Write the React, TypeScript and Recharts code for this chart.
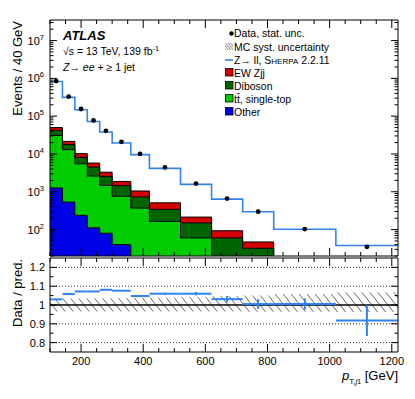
import React from 'react';
import { ComposedChart, Area, Line, Scatter, XAxis, YAxis, ErrorBar, ReferenceLine } from 'recharts';

// bins in pT (GeV), 13 bins
const binEdges = [100, 140, 180, 220, 260, 300, 360, 420, 520, 620, 720, 820, 1020, 1220];

// events / 40 GeV
const dataEvents = [850000, 330000, 155000, 77000, 41000, 21000, 10000, 4400, 1650, 660, 297, 103, 35];
const sherpaPred = [830000, 314000, 148000, 72000, 38000, 19500, 9600, 4150, 1570, 640, 295, 102, 38];
const ewZjj = [8000, 3900, 2100, 1250, 750, 430, 320, 168, 64, 33, 15, 4, 2];
const diboson = [11000, 4600, 2600, 1900, 1070, 690, 360, 177, 90, 42, 22, 5, 3];
const ttbarSingleTop = [29700, 12500, 5260, 2490, 1400, 720, 362, 160, 57, 16, 9, 4, 1];
const other = [1260, 533, 238, 111, 80, 40, 8, 5, 3, 2, 1, 1, 1];

// data / prediction
const ratio = [1.03, 1.058, 1.072, 1.072, 1.081, 1.076, 1.048, 1.06, 1.06, 1.031, 1.005, 1.005, 0.917];
const ratioStat = [0.002, 0.002, 0.002, 0.003, 0.004, 0.004, 0.005, 0.006, 0.009, 0.017, 0.026, 0.03, 0.082];
const systUp = [1.033, 1.033, 1.033, 1.034, 1.035, 1.036, 1.038, 1.04, 1.043, 1.046, 1.05, 1.058, 1.068];
const systDown = [0.966, 0.966, 0.966, 0.966, 0.966, 0.966, 0.965, 0.965, 0.965, 0.965, 0.964, 0.964, 0.963];

const xLabels = [200, 400, 600, 800, 1000, 1200];
const ratioLabels = [0.8, 0.9, 1, 1.1, 1.2];
const decades = [100, 1000, 10000, 100000, 1000000, 10000000];

const FONT = '"Liberation Sans", Arial, Helvetica, sans-serif';
const BLUE = '#2f84f4';

const xTicks = Array.from({ length: 23 }, (_, i) => 100 + i * 50);
const logTicks: number[] = [];
[10, 100, 1000, 10000, 100000, 1000000, 10000000].forEach((d) => {
  for (let k = 1; k < 10; k++) {
    const v = d * k;
    if (v >= 20 && v <= 3.5e7) logTicks.push(v);
  }
});
const ratioTicks = [0.8, 0.85, 0.9, 0.95, 1, 1.05, 1.1, 1.15, 1.2];

// table for the step areas / line (one row per bin edge, last bin repeated)
const stepRows = binEdges.map((edge, i) => {
  const b = Math.min(i, other.length - 1);
  const o = other[b];
  const t = o + ttbarSingleTop[b];
  const d = t + diboson[b];
  const e = d + ewZjj[b];
  return { x: edge, other: o, top: t, dib: d, ew: e, mc: sherpaPred[b], band: [systDown[b], systUp[b]] };
});

const pointRows = dataEvents.map((v, i) => ({ x: (binEdges[i] + binEdges[i + 1]) / 2, y: v }));
const ratioRows = ratio.map((r, i) => ({
  x: (binEdges[i] + binEdges[i + 1]) / 2,
  y: r,
  ex: (binEdges[i + 1] - binEdges[i]) / 2,
  ey: ratioStat[i],
}));

const isMajorX = (v: number) => xLabels.includes(v);

const XTick = ({ x, y, payload, up, label }: any) => {
  const len = isMajorX(payload.value) ? 8 : 4;
  return (
    <g>
      <line x1={x} x2={x} y1={y} y2={up ? y - len : y + len} stroke="#000" strokeWidth={1} />
      {label && isMajorX(payload.value) && (
        <text x={x} y={y + 13} textAnchor="middle" fontSize={11} fontFamily={FONT} fill="#000">
          {payload.value}
        </text>
      )}
    </g>
  );
};

const LogTick = ({ x, y, payload, left }: any) => {
  const v = payload.value;
  const isDec = decades.includes(v);
  const len = isDec ? 7 : 3.5;
  const exp = Math.round(Math.log10(v));
  return (
    <g>
      <line x1={x} x2={left ? x + len : x - len} y1={y} y2={y} stroke="#000" strokeWidth={1} />
      {left && isDec && (
        <text x={x - 6} y={y + 4} textAnchor="end" fontSize={11} fontFamily={FONT} fill="#000">
          10<tspan dy={-5} fontSize={7.5}>{exp}</tspan>
        </text>
      )}
    </g>
  );
};

const RatioTick = ({ x, y, payload, left }: any) => {
  const v = payload.value;
  const isMaj = ratioLabels.some((r) => Math.abs(r - v) < 1e-6);
  const len = isMaj ? 7 : 3.5;
  return (
    <g>
      <line x1={x} x2={left ? x + len : x - len} y1={y} y2={y} stroke="#000" strokeWidth={1} />
      {left && isMaj && (
        <text x={x - 5} y={y + 4} textAnchor="end" fontSize={11} fontFamily={FONT} fill="#000">
          {String(v)}
        </text>
      )}
    </g>
  );
};

const Hatch = ({ id, w, h, sw }: { id: string; w: number; h: number; sw: number }) => (
  <pattern id={id} patternUnits="userSpaceOnUse" width={w} height={h}>
    <path d={`M0,0 L${w},${h} M${-w},0 L0,${h} M${w},0 L${2 * w},${h}`} stroke="#222" strokeWidth={sw} />
  </pattern>
);

const axisCommon = {
  tickSize: 0,
  tickMargin: 0,
  tickLine: false,
  interval: 0 as const,
  axisLine: { stroke: '#000', strokeWidth: 1 },
};

function MainPanel() {
  return (
    <ComposedChart width={415} height={260} data={stepRows} margin={{ top: 19, right: 16, bottom: 3, left: 49 }}>
      <XAxis xAxisId="b" type="number" dataKey="x" domain={[100, 1220]} allowDataOverflow ticks={xTicks} height={1}
        {...axisCommon} tick={(p: any) => <XTick {...p} up />} />
      <XAxis xAxisId="t" orientation="top" type="number" dataKey="x" domain={[100, 1220]} allowDataOverflow ticks={xTicks} height={1}
        {...axisCommon} tick={(p: any) => <XTick {...p} />} />
      <YAxis yAxisId="l" scale="log" type="number" domain={[20, 3.5e7]} allowDataOverflow ticks={logTicks} width={1}
        {...axisCommon} tick={(p: any) => <LogTick {...p} left />} />
      <YAxis yAxisId="r" orientation="right" scale="log" type="number" domain={[20, 3.5e7]} allowDataOverflow ticks={logTicks} width={1}
        {...axisCommon} tick={(p: any) => <LogTick {...p} />} />
      <Area xAxisId="b" yAxisId="l" type="stepAfter" dataKey="ew" baseValue={20} fill="#d40000" fillOpacity={1} stroke="#000" strokeWidth={1} isAnimationActive={false} />
      <Area xAxisId="b" yAxisId="l" type="stepAfter" dataKey="dib" baseValue={20} fill="#006400" fillOpacity={1} stroke="#000" strokeWidth={1} isAnimationActive={false} />
      <Area xAxisId="b" yAxisId="l" type="stepAfter" dataKey="top" baseValue={20} fill="#00cc00" fillOpacity={1} stroke="#000" strokeWidth={1} isAnimationActive={false} />
      <Area xAxisId="b" yAxisId="l" type="stepAfter" dataKey="other" baseValue={20} fill="#0000e6" fillOpacity={1} stroke="#000" strokeWidth={1} isAnimationActive={false} />
      <Line xAxisId="b" yAxisId="l" type="stepAfter" dataKey="mc" stroke={BLUE} strokeWidth={1.6} dot={false} isAnimationActive={false} />
      <Scatter xAxisId="b" yAxisId="l" data={pointRows} dataKey="y" fill="#000" isAnimationActive={false}
        shape={(p: any) => <circle cx={p.cx} cy={p.cy} r={2.4} fill="#000" />} />
    </ComposedChart>
  );
}

function RatioPanel() {
  return (
    <ComposedChart width={415} height={149} data={stepRows} margin={{ top: 7, right: 16, bottom: 46, left: 49 }}>
      <defs>
        <Hatch id="hatchRatio" w={8} h={10} sw={0.7} />
      </defs>
      <XAxis xAxisId="b" type="number" dataKey="x" domain={[100, 1220]} allowDataOverflow ticks={xTicks} height={1}
        {...axisCommon} tick={(p: any) => <XTick {...p} up label />} />
      <XAxis xAxisId="t" orientation="top" type="number" dataKey="x" domain={[100, 1220]} allowDataOverflow ticks={xTicks} height={1}
        {...axisCommon} tick={(p: any) => <XTick {...p} />} />
      <YAxis yAxisId="l" type="number" domain={[0.75, 1.25]} allowDataOverflow ticks={ratioTicks} width={1}
        {...axisCommon} tick={(p: any) => <RatioTick {...p} left />} />
      <YAxis yAxisId="r" orientation="right" type="number" domain={[0.75, 1.25]} allowDataOverflow ticks={ratioTicks} width={1}
        {...axisCommon} tick={(p: any) => <RatioTick {...p} />} />
      {[0.8, 0.9, 1.1, 1.2].map((v) => (
        <ReferenceLine key={v} xAxisId="b" yAxisId="l" y={v} stroke="#000" strokeWidth={0.8} strokeDasharray="1 2" />
      ))}
      <Area xAxisId="b" yAxisId="l" type="stepAfter" dataKey="band" fill="url(#hatchRatio)" fillOpacity={1} stroke="none" isAnimationActive={false} />
      <ReferenceLine xAxisId="b" yAxisId="l" y={1} stroke="#000" strokeWidth={1.3} />
      <Scatter xAxisId="b" yAxisId="l" data={ratioRows} dataKey="y" fill={BLUE} isAnimationActive={false} shape={() => <g />}>
        <ErrorBar dataKey="ex" direction="x" width={0} stroke={BLUE} strokeWidth={2} />
        <ErrorBar dataKey="ey" direction="y" width={0} stroke={BLUE} strokeWidth={2} />
      </Scatter>
    </ComposedChart>
  );
}

function Overlay() {
  const lx = 225;
  const tx = 234;
  const rows = [37, 50.5, 63.5, 76.5, 89.5, 102.5, 115.5];
  const boxes = [
    { label: 'EW Zjj', color: '#d40000' },
    { label: 'Diboson', color: '#006400' },
    { label: 'tt\u0304, single-top', color: '#00cc00' },
    { label: 'Other', color: '#0000e6' },
  ];
  return (
    <svg width={415} height={399} style={{ position: 'absolute', left: 0, top: 0, pointerEvents: 'none' }} fontFamily={FONT}>
      <defs>
        <Hatch id="hatchLegend" w={2.5} h={3.5} sw={0.6} />
      </defs>
      {/* axis titles */}
      <text transform="translate(21.5,21) rotate(-90)" textAnchor="end" fontSize={13} fill="#000">Events / 40 GeV</text>
      <text transform="translate(21.5,259) rotate(-90)" textAnchor="end" fontSize={13} fill="#000">Data / pred.</text>
      <text x={398} y={380} textAnchor="end" fontSize={13} fill="#000">
        <tspan fontStyle="italic">p</tspan>
        <tspan fontSize={8} dy={4}>T,</tspan>
        <tspan fontSize={8} fontStyle="italic">j</tspan>
        <tspan fontSize={7}>1</tspan>
        <tspan fontSize={13} dy={-4}> [GeV]</tspan>
      </text>
      {/* labels */}
      <text x={63} y={40} fontSize={13} fontWeight="bold" fontStyle="italic" fill="#000">ATLAS</text>
      <text x={63} y={55} fontSize={10.5} fill="#000">
        √s = 13 TeV, 139 fb<tspan dy={-4} fontSize={7.5}>-1</tspan>
      </text>
      <text x={63} y={70.5} fontSize={10.5} fill="#000">
        <tspan fontStyle="italic">Z</tspan>→ <tspan fontStyle="italic">ee</tspan> + ≥ 1 jet
      </text>
      {/* legend */}
      <circle cx={231.5} cy={rows[0] - 3.5} r={2.2} fill="#000" />
      <text x={tx} y={rows[0]} fontSize={10.5} fill="#000">Data, stat. unc.</text>
      <rect x={lx} y={rows[1] - 7.5} width={8} height={7} fill="url(#hatchLegend)" />
      <text x={tx} y={rows[1]} fontSize={10.5} fill="#000">MC syst. uncertainty</text>
      <line x1={lx} x2={lx + 8} y1={rows[2] - 3.5} y2={rows[2] - 3.5} stroke={BLUE} strokeWidth={1.6} />
      <text x={tx} y={rows[2]} fontSize={10.5} fill="#000">
        Z→ ll, S<tspan fontSize={8}>HERPA</tspan> 2.2.11
      </text>
      {boxes.map((b, i) => (
        <g key={b.label}>
          <rect x={lx + 0.5} y={rows[3 + i] - 8} width={7.5} height={7.5} fill={b.color} stroke="#000" strokeWidth={0.8} />
          <text x={tx} y={rows[3 + i]} fontSize={10.5} fill="#000">{b.label}</text>
        </g>
      ))}
    </svg>
  );
}

export default function App() {
  return (
    <div style={{ position: 'absolute', left: 0, top: 0, width: 415, height: 399, background: '#fff' }}>
      <div style={{ position: 'absolute', left: 0, top: 0 }}>
        <MainPanel />
      </div>
      <div style={{ position: 'absolute', left: 0, top: 250 }}>
        <RatioPanel />
      </div>
      <Overlay />
    </div>
  );
}
